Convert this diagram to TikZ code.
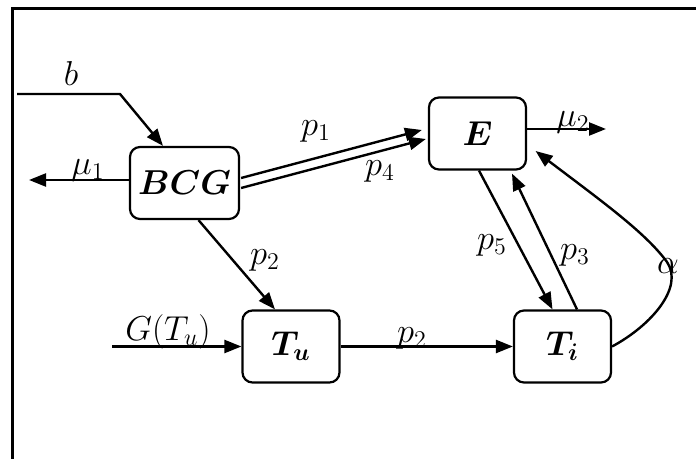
\documentclass[tikz,border=0pt]{standalone}
\usepackage{amsmath}
\usepackage{tikz}
\usetikzlibrary{
    arrows.meta,
    positioning,
    calc
}
\tikzset{
    % Base style for the compartment boxes
    box/.style={
        rectangle,
        rounded corners=5pt,
        draw=black,
        line width=1.1pt,
        minimum width=48.5pt,
        minimum height=36pt,
        inner sep=0pt,
        font=\fontsize{17.5}{20}\selectfont,
    },
    % Flow arrow with a filled head
    arrow/.style={
        -{Triangle[length=8.5pt, width=6.5pt]},
        line width=1.2pt,
    },
    % Label style for the rates
    edge label/.style={
        font=\fontsize{18}{21}\selectfont,
        inner sep=1pt,
    },
}

\begin{document}
\begin{tikzpicture}[x=0.5pt, y=-0.5pt]
    \useasboundingbox (0,0) rectangle (696,459);
    % open frame
    \draw [line width=1.5pt] (696,9) -- (12,9) -- (12,459);

    \node (bcg) [box, minimum width=54.5pt] at (184.5,183) {$\boldsymbol{BCG}$};
    \node (e) [box] at (477.5,133.5) {$\boldsymbol{E}$};
    \node (t_u) [box] at (291,346.5) {$\boldsymbol{T_u}$};
    \node (t_i) [box] at (562.5,346.5) {$\boldsymbol{T_i}$};

    \coordinate (b_in) at (17,94);
    \coordinate (b_bend) at (120,94);
    \coordinate (mu1_out) at (29,180);
    \coordinate (mu2_out) at (606,129);
    \coordinate (g_in) at (112,346.5);
    \coordinate (alpha_turn) at (667,262);

    \draw [arrow] (b_in) -- (b_bend) -- ($(bcg.north)+(-21.5,0)$);
    \draw [arrow] ($(bcg.west)+(0,-3)$) -- (mu1_out);
    \draw [arrow] ($(bcg.east)+(1,-5)$) -- ($(e.west)+(-6,-3.5)$);
    \draw [arrow] ($(bcg.east)+(1,5)$) -- ($(e.west)+(-2,5.5)$);
    \draw [arrow] ($(e.east)+(0,-4.5)$) -- (mu2_out);
    \draw [arrow] ($(bcg.south)+(14,0)$) -- ($(t_u.north)+(-16,0)$);
    \draw [arrow] (g_in) -- (t_u.west);
    \draw [arrow] (t_u.east) -- (t_i.west);
    \draw [arrow] ($(e.south)+(1.5,0)$) -- ($(t_i.north)+(-10,0)$);
    \draw [arrow] ($(t_i.north)+(14.5,0)$) -- ($(e.south)+(34.5,3)$);
    \draw [arrow] (t_i.east) .. controls (652,325) and (684,287) .. (alpha_turn)
        .. controls (645,232) and (600,200) .. ($(e.east)+(8.5,17.5)$);

    \node (lbl_b) [edge label] at (71,74) {$b$};
    \node (lbl_mu1) [edge label] at (88,170) {$\mu_1$};
    \node (lbl_p1) [edge label] at (316,131) {$p_1$};
    \node (lbl_p4) [edge label] at (380,171) {$p_4$};
    \node (lbl_mu2) [edge label] at (573,122) {$\mu_2$};
    \node (lbl_p2a) [edge label] at (265,260) {$p_2$};
    \node (lbl_g) [edge label] at (168,332) {$G(T_u)$};
    \node (lbl_p2b) [edge label] at (412,338) {$p_2$};
    \node (lbl_p5) [edge label] at (492,245) {$p_5$};
    \node (lbl_p3) [edge label] at (575,255) {$p_3$};
    \node (lbl_alpha) [edge label] at (668,266) {$\alpha$};
\end{tikzpicture}
\end{document}
